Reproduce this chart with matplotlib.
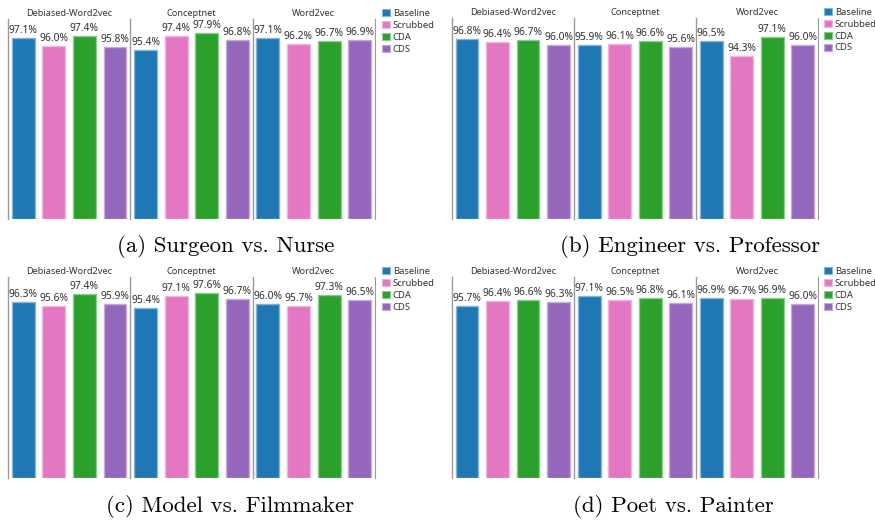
import matplotlib
matplotlib.use('Agg')
import matplotlib.pyplot as plt
from matplotlib.patches import Patch
from matplotlib.colors import to_rgb

W, H = 875, 520

groups = ['Debiased-Word2vec', 'Conceptnet', 'Word2vec']
methods = ['Baseline', 'Scrubbed', 'CDA', 'CDS']

# values per group, in method order
surgeon_nurse = [[97.1, 96.0, 97.4, 95.8], [95.4, 97.4, 97.9, 96.8], [97.1, 96.2, 96.7, 96.9]]
engineer_professor = [[96.8, 96.4, 96.7, 96.0], [95.9, 96.1, 96.6, 95.6], [96.5, 94.3, 97.1, 96.0]]
model_filmmaker = [[96.3, 95.6, 97.4, 95.9], [95.4, 97.1, 97.6, 96.7], [96.0, 95.7, 97.3, 96.5]]
poet_painter = [[95.7, 96.4, 96.6, 96.3], [97.1, 96.5, 96.8, 96.1], [96.9, 96.7, 96.9, 96.0]]

captions = ['(a) Surgeon vs. Nurse', '(b) Engineer vs. Professor',
            '(c) Model vs. Filmmaker', '(d) Poet vs. Painter']

COLORS = ['#1f77b4', '#e377c2', '#2ca02c', '#9467bd']
TEXT = '#333333'
SPINE = '#9a9a9a'
SANS = ['Noto Sans', 'DejaVu Sans']


def tint(c, f=0.45):
    r, g, b = to_rgb(c)
    return (r + (1 - r) * f, g + (1 - g) * f, b + (1 - b) * f)


def px(x0, y0, w, h):
    """pixel box (top-left origin) -> figure fraction rect"""
    return [x0 / W, 1 - (y0 + h) / H, w / W, h / H]


fig = plt.figure(figsize=(W / 100, H / 100), dpi=100)
fig.patch.set_facecolor('white')

# panel layouts: (data, left x, top y, facet width, height, legend x, caption x, caption y)
panels = [
    (surgeon_nurse, 8, 19, 122.3, 200, 382, 226, 246),
    (engineer_professor, 451.7, 18, 122.1, 201, 824, 690, 247),
    (model_filmmaker, 8, 277, 122.3, 201, 382, 230, 506),
    (poet_painter, 451.7, 277, 122.1, 201, 824, 673, 506),
]

for p, (data, x0, y0, fw, fh, lx, cx, cy) in enumerate(panels):
    for g, name in enumerate(groups):
        ax = fig.add_axes(px(x0 + g * fw, y0, fw, fh))
        vals = data[g]
        for i, v in enumerate(vals):
            ax.bar(i, v - 70, bottom=70, width=0.75, color=COLORS[i],
                   edgecolor=tint(COLORS[i]), linewidth=1)
            ax.annotate(f'{v:.1f}%', xy=(i, v), xytext=(0, 1.5), textcoords='offset points',
                        ha='center', va='bottom', fontsize=7.4, color=TEXT, family=SANS)
        ax.set_xlim(-0.5, 3.5)
        ax.set_ylim(70, 100)
        ax.set_xticks([])
        ax.set_yticks([])
        for s in ['top', 'bottom']:
            ax.spines[s].set_visible(False)
        ax.spines['left'].set_color(SPINE)
        ax.spines['left'].set_linewidth(1)
        ax.spines['right'].set_visible(g == 2)
        ax.spines['right'].set_color(SPINE)
        ax.set_title(name, fontsize=6.6, color=TEXT, pad=2, family=SANS)

    handles = [Patch(facecolor=c, edgecolor=tint(c), linewidth=0.8) for c in COLORS]
    fig.legend(handles, methods, loc='upper left',
               bbox_to_anchor=(lx / W, 1 - (y0 - 10) / H), frameon=False,
               prop={'family': SANS, 'size': 6.8}, handlelength=0.8, handleheight=0.8,
               handletextpad=0.35, labelspacing=0.3, borderaxespad=0, borderpad=0,
               labelcolor=TEXT)

    fig.text(cx / W, 1 - cy / H, captions[p], ha='center', va='center',
             fontsize=16.5, family=['cmr10', 'DejaVu Serif'])

fig.savefig('out.png', dpi=100, facecolor='white')
